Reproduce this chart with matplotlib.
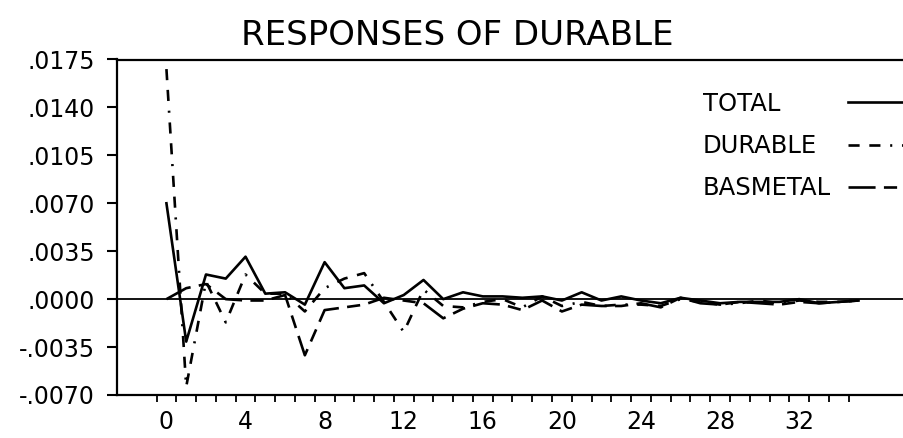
import numpy as np
import matplotlib
matplotlib.use("Agg")
import matplotlib.pyplot as plt
from matplotlib.ticker import FixedLocator, FuncFormatter

plt.rcParams['font.family'] = ['DejaVu Sans']
plt.rcParams['lines.scale_dashes'] = False

# Impulse responses, horizons 0..35
steps = np.arange(36)

total = [0.0070, -0.0031, 0.0018, 0.0015, 0.0031, 0.0004, 0.0005, -0.0004,
         0.0027, 0.0008, 0.0010, -0.0003, 0.0003, 0.0014, 0.0000, 0.0005,
         0.0002, 0.0002, 0.0001, 0.0002, -0.0001, 0.0005, -0.0001, 0.0002,
         -0.0001, -0.0003, 0.0001, -0.0001, -0.0003, -0.0002, -0.0002, -0.0002,
         0.0000, -0.0003, -0.0002, -0.0001]

durable = [0.0168, -0.0064, 0.0013, -0.0017, 0.0018, 0.0004, 0.0004, -0.0009,
           0.0008, 0.0015, 0.0019, -0.0002, -0.0024, 0.0007, -0.0005, -0.0006,
           -0.0002, 0.0000, -0.0006, 0.0002, -0.0005, -0.0002, -0.0005, -0.0004,
           -0.0004, -0.0005, 0.0000, -0.0002, -0.0004, -0.0003, -0.0001, -0.0003,
           -0.0001, -0.0002, -0.0002, -0.0001]

basmetal = [0.0000, 0.0008, 0.0011, 0.0000, -0.0001, -0.0001, 0.0003, -0.0041,
            -0.0008, -0.0006, -0.0004, 0.0001, -0.0001, -0.0003, -0.0014, -0.0007,
            -0.0003, -0.0004, -0.0008, -0.0001, -0.0009, -0.0004, -0.0005, -0.0005,
            -0.0003, -0.0006, 0.0001, -0.0003, -0.0004, -0.0002, -0.0003, -0.0004,
            -0.0002, -0.0003, -0.0002, -0.0001]

series_names = ["TOTAL", "DURABLE", "BASMETAL"]
y_ticks = [-0.0070, -0.0035, 0.0000, 0.0035, 0.0070, 0.0105, 0.0140, 0.0175]
x_labels = [0, 4, 8, 12, 16, 20, 24, 28, 32]

W, H = 904, 438
DPI = 100
fig = plt.figure(figsize=(W / DPI, H / DPI), dpi=DPI)
ax = fig.add_axes([117 / W, 1 - 395 / H, 1 - 117 / W, (395 - 59.5) / H])

lw = 1.9
ax.axhline(0.0, color="black", lw=1.3, zorder=1)
ax.plot(steps, total, color="black", lw=lw, label=series_names[0])
ax.plot(steps, durable, color="black", lw=lw, label=series_names[1],
        dashes=(8, 7, 8, 7, 1.5, 7))
ax.plot(steps, basmetal, color="black", lw=lw, label=series_names[2],
        dashes=(19.5, 6, 9.5, 6))

ax.set_xlim(-2.5, 37.3)
ax.set_ylim(y_ticks[0], y_ticks[-1])

# y axis
ax.yaxis.set_major_locator(FixedLocator(y_ticks))
ax.yaxis.set_major_formatter(FuncFormatter(
    lambda v, p: ("-" if v < -1e-12 else "") + ("%.4f" % abs(v))[1:]))
ax.tick_params(axis="y", direction="out", length=7.2, width=1.5, pad=8.6,
               labelsize=17)

# x axis: labels on integers, tick marks between periods
ax.xaxis.set_major_locator(FixedLocator(x_labels))
ax.xaxis.set_minor_locator(FixedLocator(np.arange(-0.5, 35, 1.0)))
ax.tick_params(axis="x", which="major", length=0, pad=11, labelsize=17)
ax.tick_params(axis="x", which="minor", direction="out", length=5, width=1.3)

for side in ("left", "bottom", "top"):
    ax.spines[side].set_linewidth(1.6)
ax.spines["right"].set_visible(False)

fig.text(457 / W, 1 - 45 / H, "RESPONSES OF DURABLE", ha="center",
         va="baseline", fontsize=24.5)

# legend: labels on the left, line keys on the right
leg_fs = 17.5
pad_pt = 0.7 * leg_fs
leg = ax.legend(loc="upper left", bbox_to_anchor=(703 / W, 1 - 92 / H),
                bbox_transform=fig.transFigure, frameon=False,
                markerfirst=False, fontsize=leg_fs, borderpad=0,
                borderaxespad=0, handlelength=3.0, handletextpad=0.7,
                labelspacing=0.75)

# keep the labels left-aligned so the keys line up in one column
fig.canvas.draw()
renderer = fig.canvas.get_renderer()
widths = [t.get_window_extent(renderer).width for t in leg.get_texts()]
wmax = max(widths)
rows = leg._legend_handle_box.get_children()[0].get_children()
for row, w in zip(rows, widths):
    row.sep = pad_pt + (wmax - w) * 72.0 / DPI

fig.savefig("out.png", dpi=DPI)
